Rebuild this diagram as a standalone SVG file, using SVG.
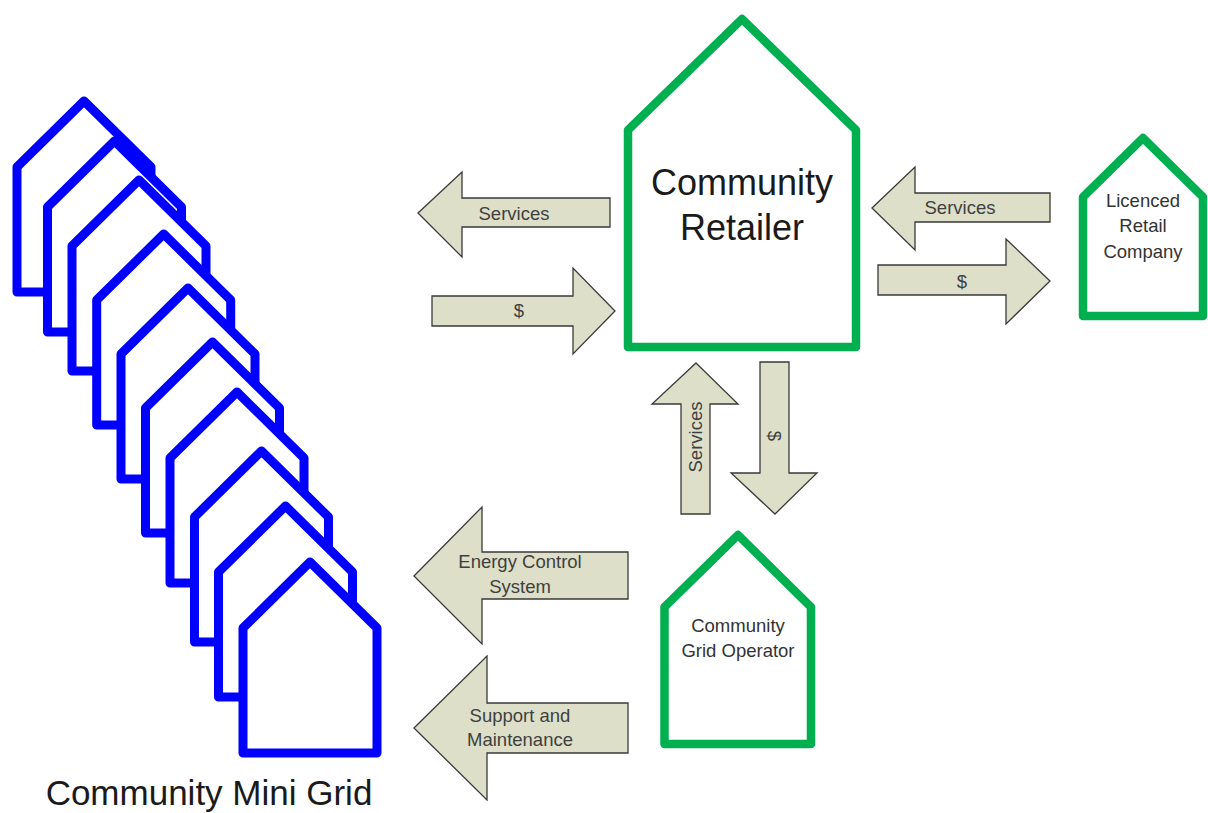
<svg xmlns="http://www.w3.org/2000/svg" width="1208" height="813" viewBox="0 0 1208 813">
<style>
.bh{fill:#fff;stroke:#0000FF;stroke-width:9;stroke-linejoin:round}
.gh{fill:#fff;stroke:#00B050;stroke-width:8.5;stroke-linejoin:round}
.ar{fill:#DDDFC9;stroke:#3a3a3a;stroke-width:1.3;stroke-linejoin:miter}
.t{font-family:"Liberation Sans",Arial,sans-serif;text-anchor:middle}
.s{font-size:18.5px;fill:#3f3f3f}
.n{font-size:18.5px;fill:#333}
.b{font-size:36px;fill:#1a1a1a}
</style>
<defs>
<path id="bhouse" d="M0,66 L67,0 L134,66 L134,191 L0,191 Z"/>
</defs>
<g id="mini-grid">
<use href="#bhouse" class="bh" transform="translate(17,101)"/>
<use href="#bhouse" class="bh" transform="translate(47.5,141)"/>
<use href="#bhouse" class="bh" transform="translate(72,180)"/>
<use href="#bhouse" class="bh" transform="translate(96.7,234)"/>
<use href="#bhouse" class="bh" transform="translate(121,288)"/>
<use href="#bhouse" class="bh" transform="translate(145.5,342)"/>
<use href="#bhouse" class="bh" transform="translate(170,392)"/>
<use href="#bhouse" class="bh" transform="translate(194.5,451)"/>
<use href="#bhouse" class="bh" transform="translate(218.5,506)"/>
<use href="#bhouse" class="bh" transform="translate(243,562)"/>
<text class="t b" x="209" y="805" style="font-size:35px">Community Mini Grid</text>
</g>
<g id="community-retailer">
<path class="gh" d="M628,130 L742,19 L856,130 L856,347 L628,347 Z"/>
<text class="t b" x="742" y="195">Community</text>
<text class="t b" x="742" y="240">Retailer</text>
</g>
<g id="licenced-retail-company">
<path class="gh" d="M1083,197 L1143,138 L1203,197 L1203,316 L1083,316 Z"/>
<text class="t n" x="1143" y="207">Licenced</text>
<text class="t n" x="1143" y="232">Retail</text>
<text class="t n" x="1143" y="258">Company</text>
</g>
<g id="community-grid-operator">
<path class="gh" d="M664.5,607 L738,535 L811,607 L811,744 L664.5,744 Z"/>
<text class="t n" x="738" y="632">Community</text>
<text class="t n" x="738" y="657">Grid Operator</text>
</g>
<g id="connectors">
<g id="cr-to-grid-services">
<path class="ar" d="M418,213 L462,172 L462,198 L610,198 L610,227 L462,227 L462,257 Z"/>
<text class="t s" x="514" y="220">Services</text>
</g>
<g id="grid-to-cr-money">
<path class="ar" d="M432,296 L573,296 L573,268 L615,311 L573,354 L573,326 L432,326 Z"/>
<text class="t s" x="519" y="317">$</text>
</g>
<g id="lrc-to-cr-services">
<path class="ar" d="M872,208 L915,167 L915,193 L1050,193 L1050,222 L915,222 L915,250 Z"/>
<text class="t s" x="960" y="214">Services</text>
</g>
<g id="cr-to-lrc-money">
<path class="ar" d="M878,265 L1006,265 L1006,239 L1050,281 L1006,324 L1006,295 L878,295 Z"/>
<text class="t s" x="962" y="288">$</text>
</g>
<g id="cgo-to-cr-services">
<path class="ar" d="M696,363 L738,404 L710,404 L710,514 L681,514 L681,404 L652,404 Z"/>
<text class="t s" transform="translate(701.5,437) rotate(-90)">Services</text>
</g>
<g id="cr-to-cgo-money">
<path class="ar" d="M760,362 L789,362 L789,473 L817,473 L775,514 L731,473 L760,473 Z"/>
<text class="t s" transform="translate(768,436) rotate(90)">$</text>
</g>
<g id="cgo-to-grid-ecs">
<path class="ar" d="M414,576 L482,507 L482,552 L628,552 L628,599 L482,599 L482,644 Z"/>
<text class="t s" x="520" y="568">Energy Control</text>
<text class="t s" x="520" y="593">System</text>
</g>
<g id="cgo-to-grid-support">
<path class="ar" d="M414,728 L487,656 L487,703 L628,703 L628,753 L487,753 L487,800 Z"/>
<text class="t s" x="520" y="722">Support and</text>
<text class="t s" x="520" y="746">Maintenance</text>
</g>
</g>
</svg>
